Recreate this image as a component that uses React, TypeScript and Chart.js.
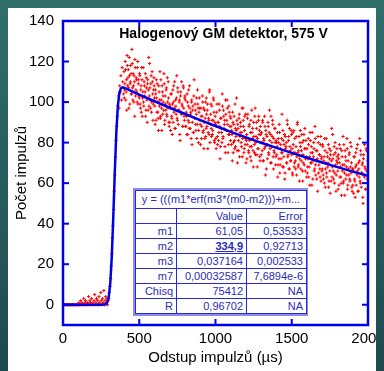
import React, { useEffect, useRef } from 'react';
import { Chart, registerables } from 'chart.js';

Chart.register(...registerables);

// ---- data ----
const X_STEP = 4; // µs between consecutive measured points of one sweep
const SWEEP_B_START = 402; // second, interleaved sweep of the decay part
const baselineCounts = [
  0, 0, 0, 0, 0, 0, 0, 0, 0, 0, 0, 0, 0, 0, 0, 0, 0, 0, 0, 0, 0, 0, 0, 0, 0,
  0, 1, 0, 0, 2, 0, 1, 0, 0, 3, 0, 1, 2, 0, 0, 1, 0, 4, 0, 2, 1, 0, 3, 0, 1,
  0, 2, 5, 0, 1, 3, 0, 2, 0, 4, 1, 0, 6, 2, 0, 3, 1, 7, 0, 2, 4, 1, 3, 0, 2,
];
const riseCounts = [
  3, 6, 9, 13, 19, 25, 33, 39, 47, 56, 64, 73, 81, 88, 93, 98, 103, 97, 108, 105, 113, 101, 117, 110, 104,
];
// decay, sweep A: x = 400, 404, ... 2000
const decayCountsA = [
  115, 106, 120, 101, 111, 123, 108, 116, 97, 113, 109, 118, 104, 126, 107, 114, 100, 110, 121, 103, 112, 105, 117, 99, 111,
  102, 113, 97, 108, 117, 93, 105, 100, 110, 103, 114, 96, 107, 90, 111, 106, 98, 119, 101, 109, 95, 115, 104, 99, 112,
  102, 89, 104, 111, 95, 100, 92, 108, 98, 115, 93, 101, 86, 105, 103, 96, 109, 91, 99, 106, 94, 112, 97, 102, 88,
  90, 97, 104, 93, 84, 106, 100, 95, 110, 87, 98, 102, 92, 107, 89, 96, 101, 81, 105, 94, 99, 88, 108, 97, 91,
  103, 88, 95, 84, 100, 91, 106, 87, 97, 94, 82, 101, 90, 98, 85, 111, 92, 96, 86, 102, 89, 99, 80, 95, 97,
  89, 97, 82, 93, 100, 86, 77, 96, 92, 83, 102, 88, 99, 85, 91, 105, 80, 94, 87, 98, 84, 91, 101, 81, 90,
  89, 77, 95, 83, 90, 81, 99, 88, 78, 92, 85, 104, 82, 96, 87, 91, 75, 94, 86, 101, 89, 79, 98, 84, 93,
  92, 79, 84, 95, 75, 89, 81, 99, 78, 86, 91, 70, 87, 76, 94, 83, 90, 80, 85, 73, 97, 88, 77, 93, 82,
  70, 84, 79, 94, 76, 88, 81, 73, 91, 78, 85, 87, 68, 83, 75, 97, 80, 90, 74, 82, 77, 93, 86, 71, 84,
  74, 80, 91, 71, 82, 77, 88, 64, 84, 79, 72, 90, 75, 85, 81, 70, 93, 78, 83, 89, 67, 76, 87, 80, 73,
  80, 78, 63, 82, 72, 85, 69, 79, 75, 94, 68, 81, 73, 84, 65, 77, 80, 70, 89, 74, 83, 67, 78, 71, 86,
  74, 65, 85, 75, 68, 82, 71, 78, 64, 89, 75, 69, 83, 72, 86, 67, 76, 80, 61, 70, 84, 77, 66, 81, 73,
  77, 68, 82, 63, 73, 85, 70, 78, 59, 75, 71, 80, 66, 88, 69, 76, 62, 72, 83, 65, 74, 67, 79, 61, 73,
  67, 78, 62, 73, 82, 58, 70, 65, 75, 68, 79, 61, 72, 55, 76, 71, 63, 84, 66, 74, 60, 80, 69, 64, 77,
  70, 57, 72, 79, 63, 68, 60, 76, 66, 83, 61, 69, 54, 73, 71, 64, 77, 59, 67, 74, 62, 80, 65, 70, 56,
  59, 66, 73, 62, 53, 75, 69, 64, 79, 56, 67, 71, 61, 76, 58, 65, 70, 50, 74, 63, 68, 57, 77, 66, 60,
  64,
];
// decay, sweep B: x = 402, 406, ... 1998
const decayCountsB = [
  102, 109, 116, 105, 96, 118, 112, 107, 122, 99, 110, 114, 104, 119, 101, 108, 113, 93, 117, 106, 111, 100, 120, 109, 103,
  114, 99, 106, 95, 111, 102, 117, 98, 108, 105, 93, 112, 101, 109, 96, 122, 103, 107, 97, 113, 100, 110, 91, 106, 108,
  98, 106, 91, 102, 109, 95, 86, 105, 101, 92, 111, 97, 108, 94, 100, 114, 89, 103, 96, 107, 93, 100, 110, 90, 99,
  98, 86, 104, 92, 99, 90, 108, 97, 87, 101, 94, 113, 91, 105, 96, 100, 84, 103, 95, 110, 98, 88, 107, 93, 102,
  101, 88, 93, 104, 84, 98, 90, 108, 87, 95, 100, 79, 96, 85, 103, 92, 99, 89, 94, 82, 106, 97, 86, 102, 91,
  79, 93, 88, 103, 85, 97, 90, 82, 100, 87, 94, 96, 77, 92, 84, 106, 89, 99, 83, 91, 86, 102, 95, 80, 93,
  82, 88, 99, 79, 90, 85, 96, 72, 92, 87, 80, 98, 83, 93, 89, 78, 101, 86, 91, 97, 75, 84, 95, 88, 81,
  88, 86, 71, 90, 80, 93, 77, 87, 83, 102, 76, 89, 81, 92, 73, 85, 88, 78, 97, 82, 91, 75, 86, 79, 94,
  81, 72, 92, 82, 75, 89, 78, 85, 71, 96, 82, 76, 90, 79, 93, 74, 83, 87, 68, 77, 91, 84, 73, 88, 80,
  85, 76, 90, 71, 81, 93, 78, 86, 67, 83, 79, 88, 74, 96, 77, 84, 70, 80, 91, 73, 82, 75, 87, 69, 81,
  74, 85, 69, 80, 89, 65, 77, 72, 82, 75, 86, 68, 79, 62, 83, 78, 70, 91, 73, 81, 67, 87, 76, 71, 84,
  77, 64, 79, 86, 70, 75, 67, 83, 73, 90, 68, 76, 61, 80, 78, 71, 84, 66, 74, 81, 69, 87, 72, 77, 63,
  65, 72, 79, 68, 59, 81, 75, 70, 85, 62, 73, 77, 67, 82, 64, 71, 76, 56, 80, 69, 74, 63, 83, 72, 66,
  79, 64, 71, 60, 76, 67, 82, 63, 73, 70, 58, 77, 66, 74, 61, 87, 68, 72, 62, 78, 65, 75, 56, 71, 73,
  66, 74, 59, 70, 77, 63, 54, 73, 69, 60, 79, 65, 76, 62, 68, 82, 57, 71, 64, 75, 61, 68, 78, 58, 67,
  67, 55, 73, 61, 68, 59, 77, 66, 56, 70, 63, 82, 60, 74, 65, 69, 53, 72, 64, 79, 67, 57, 76, 62, 71,
];
const sweepACounts = [...baselineCounts, ...riseCounts, ...decayCountsA];

const fitX = [0, 250, 280, 290, 300, 310, 320, 330, 340, 350, 360, 370, 380, 390, 400, 500, 600, 700, 800, 900, 1000, 1100, 1200, 1300, 1400, 1500, 1600, 1700, 1800, 1900, 2000];
const fitY = [0, 0, 0.2, 1.1, 3.8, 10.6, 24.0, 43.8, 66.2, 85.6, 98.3, 104.7, 106.8, 107.3, 107.1, 103.7, 100.4, 97.2, 94.1, 91.1, 88.2, 85.3, 82.6, 79.9, 77.4, 74.9, 72.5, 70.2, 67.9, 65.7, 63.6];

const xTicks = [0, 500, 1000, 1500, 2000];
const yTicks = [0, 20, 40, 60, 80, 100, 120, 140];
const X_MIN = 0;
const X_MAX = 2000;
const Y_MIN = -10;
const Y_MAX = 140;

const chartTitle = 'Halogenový GM detektor, 575 V';
const xLabel = 'Odstup impulzů (µs)';
const yLabel = 'Počet impulzů';
const fitFormula = 'y = (((m1*erf(m3*(m0-m2)))+m...';
const paramNames = ['m1', 'm2', 'm3', 'm7', 'Chisq', 'R'];
const paramValues = ['61,05', '334,9', '0,037164', '0,00032587', '75412', '0,96702'];
const paramErrors = ['0,53533', '0,92713', '0,002533', '7,6894e-6', 'NA', 'NA'];
const highlightedParam = 'm2';

// ---- styles ----
const FONT = 'Arial, "Liberation Sans", sans-serif';
const BLUE = '#0000e6';
const RED = '#ff0000';
const TABLE_TEXT = '#2b2bb8';
const TABLE_LINE = '#2a2ad0';

const framePlugin = {
  id: 'frame',
  afterDatasetsDraw(chart: any) {
    const { ctx, chartArea, scales } = chart;
    const { left, right, top, bottom } = chartArea;
    const x = scales.x;
    const y = scales.y;
    ctx.save();
    ctx.strokeStyle = BLUE;
    ctx.lineWidth = 2.5;
    ctx.strokeRect(left, top, right - left, bottom - top);
    ctx.lineWidth = 2;
    const seg = (x1: number, y1: number, x2: number, y2: number) => {
      ctx.beginPath();
      ctx.moveTo(x1, y1);
      ctx.lineTo(x2, y2);
      ctx.stroke();
    };
    const TL = 6;
    for (const v of xTicks) {
      if (v <= X_MIN || v >= X_MAX) continue;
      const px = x.getPixelForValue(v);
      seg(px, bottom, px, bottom - TL);
      seg(px, top, px, top + TL);
    }
    for (const v of yTicks) {
      if (v <= Y_MIN || v >= Y_MAX) continue;
      const py = y.getPixelForValue(v);
      seg(left, py, left + TL, py);
      seg(right, py, right - TL, py);
    }
    ctx.fillStyle = '#000';
    ctx.font = 'bold 14px ' + FONT;
    ctx.textAlign = 'center';
    ctx.textBaseline = 'middle';
    ctx.fillText(chartTitle, (left + right) / 2 + 8, top + 13);
    ctx.restore();
  },
};

const cell: React.CSSProperties = {
  border: '1px solid ' + TABLE_LINE,
  padding: '0 3px',
  height: 14,
  lineHeight: '14px',
  whiteSpace: 'nowrap',
  overflow: 'hidden',
};

export default function App() {
  const ref = useRef<HTMLCanvasElement | null>(null);

  useEffect(() => {
    if (!ref.current) return;
    const scatterData = [
      ...sweepACounts.map((v, i) => ({ x: i * X_STEP, y: v })),
      ...decayCountsB.map((v, i) => ({ x: SWEEP_B_START + i * X_STEP, y: v })),
    ];
    const fitData = fitX.map((v, i) => ({ x: v, y: fitY[i] }));
    const chart = new Chart(ref.current, {
      type: 'scatter',
      data: {
        datasets: [
          {
            type: 'line',
            data: fitData,
            borderColor: BLUE,
            borderWidth: 2.5,
            pointRadius: 0,
            tension: 0,
            fill: false,
            order: 1,
          } as any,
          {
            type: 'scatter',
            data: scatterData,
            pointStyle: 'cross',
            pointRadius: 1.6,
            borderColor: RED,
            backgroundColor: RED,
            borderWidth: 1,
            order: 2,
          } as any,
        ],
      },
      options: {
        animation: false,
        responsive: false,
        devicePixelRatio: 1,
        layout: { padding: { top: 14, right: 16, left: 0, bottom: 0 } },
        plugins: { legend: { display: false }, tooltip: { enabled: false } },
        scales: {
          x: {
            type: 'linear',
            min: X_MIN,
            max: X_MAX,
            grid: { display: false, drawTicks: false },
            border: { display: false },
            afterBuildTicks: (s: any) => {
              s.ticks = xTicks.map((v) => ({ value: v }));
            },
            afterFit: (s: any) => {
              s.height = 46;
              s.paddingLeft = 0;
              s.paddingRight = 0;
            },
            ticks: {
              color: '#000',
              font: { family: FONT, size: 15 },
              padding: 5,
              maxRotation: 0,
              autoSkip: false,
              callback: (v: any) => String(v),
            },
            title: {
              display: true,
              text: xLabel,
              color: '#000',
              font: { family: FONT, size: 15 },
              padding: { top: 0, bottom: 4 },
            },
          },
          y: {
            type: 'linear',
            min: Y_MIN,
            max: Y_MAX,
            grid: { display: false, drawTicks: false },
            border: { display: false },
            afterBuildTicks: (s: any) => {
              s.ticks = yTicks.map((v) => ({ value: v }));
            },
            afterFit: (s: any) => {
              s.width = 55;
              s.paddingTop = 0;
              s.paddingBottom = 0;
            },
            ticks: {
              color: '#000',
              font: { family: FONT, size: 15 },
              padding: 9,
              autoSkip: false,
              callback: (v: any) => String(v),
            },
            title: {
              display: true,
              text: yLabel,
              color: '#000',
              font: { family: FONT, size: 15 },
              padding: { top: 5, bottom: 0 },
            },
          },
        },
      },
      plugins: [framePlugin],
    });
    return () => chart.destroy();
  }, []);

  return (
    <>
      <div
        style={{
          position: 'fixed',
          inset: 0,
          zIndex: -1,
          background: 'linear-gradient(180deg, #2f6e6b 0%, #275c5d 50%, #1e4a4f 100%)',
        }}
      />
      <div style={{ position: 'relative', width: 376, height: 364, marginTop: -1, background: '#fff' }}>
        <canvas ref={ref} width={376} height={364} style={{ display: 'block', width: 376, height: 364 }} />
        <div
          style={{
            position: 'absolute',
            left: 125,
            top: 181,
            width: 171,
            border: '2px solid #8c8cf0',
            background: '#fff',
          }}
        >
          <table
            style={{
              borderCollapse: 'collapse',
              width: '100%',
              tableLayout: 'fixed',
              font: '11px ' + FONT,
              color: TABLE_TEXT,
            }}
          >
            <colgroup>
              <col style={{ width: 41 }} />
              <col style={{ width: 70 }} />
              <col style={{ width: 60 }} />
            </colgroup>
            <tbody>
              <tr>
                <td colSpan={3} style={{ ...cell, textAlign: 'center', height: 17, lineHeight: '17px' }}>
                  {fitFormula}
                </td>
              </tr>
              <tr>
                <td style={cell}></td>
                <td style={{ ...cell, textAlign: 'right' }}>Value</td>
                <td style={{ ...cell, textAlign: 'right' }}>Error</td>
              </tr>
              {paramNames.map((name, i) => (
                <tr key={name}>
                  <td style={{ ...cell, textAlign: 'right' }}>{name}</td>
                  <td
                    style={{
                      ...cell,
                      textAlign: 'right',
                      fontWeight: name === highlightedParam ? 'bold' : 'normal',
                      textDecoration: name === highlightedParam ? 'underline' : 'none',
                    }}
                  >
                    {paramValues[i]}
                  </td>
                  <td style={{ ...cell, textAlign: 'right' }}>{paramErrors[i]}</td>
                </tr>
              ))}
            </tbody>
          </table>
        </div>
      </div>
    </>
  );
}
